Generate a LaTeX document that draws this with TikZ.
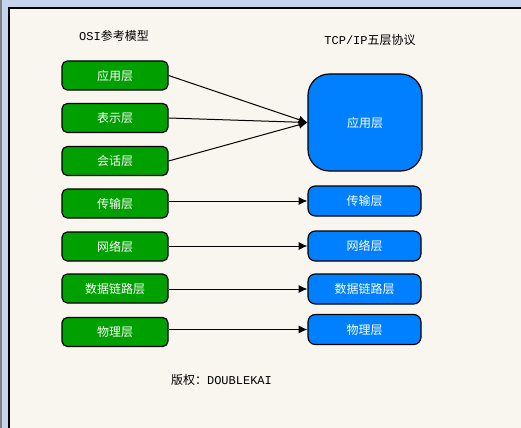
\documentclass[tikz,border=0pt]{standalone}
\usepackage{fontspec}
\setmainfont{Liberation Mono}
\newfontfamily\cjk{Noto Sans CJK SC}
\usetikzlibrary{arrows.meta}
\definecolor{bgcream}{RGB}{249,246,240}
\definecolor{topband}{RGB}{197,211,236}
\definecolor{sidegray}{RGB}{128,128,128}
\definecolor{osigreen}{RGB}{0,160,0}
\definecolor{tcpblue}{RGB}{0,128,255}
\tikzset{
  osibox/.style={draw=black, line width=0.9pt, fill=osigreen, rounded corners=4pt,
    minimum width=79.5pt, minimum height=21.75pt, inner sep=0pt, text=white,
    font=\cjk\fontsize{9}{11}\selectfont},
  tcpbox/.style={draw=black, line width=0.9pt, fill=tcpblue, rounded corners=5.5pt,
    minimum width=84.75pt, minimum height=22.5pt, inner sep=0pt, text=white,
    font=\cjk\fontsize{9}{11}\selectfont},
  bigbox/.style={tcpbox, rounded corners=16pt, minimum width=85.5pt, minimum height=72.75pt},
  title/.style={inner sep=0pt, font=\fontsize{9}{11}\selectfont},
  conn/.style={line width=0.75pt, -{Latex[length=6.5pt,width=6pt]}}
}
\begin{document}
\begin{tikzpicture}[x=0.75pt,y=-0.75pt]
\useasboundingbox (0,0) rectangle (521,428);
\fill[topband] (0,0) rectangle (521,428);
\fill[sidegray] (0,0) rectangle (2,428);
\fill[bgcream] (9,8) rectangle (521,428);
\draw[black, line width=1.5pt] (9,428) -- (9,8) -- (521,8);

\node[title] (t1) at (114,36) {OSI{\cjk 参考模型}};
\node[title] (t2) at (370,40) {TCP/IP{\cjk 五层协议}};
\node[title] (t3) at (221.5,380) {{\cjk 版权：}DOUBLEKAI};

\node[osibox] (g1) at (115,75.5) {应用层};
\node[osibox] (g2) at (115,118) {表示层};
\node[osibox] (g3) at (115,161) {会话层};
\node[osibox] (g4) at (115,203.5) {传输层};
\node[osibox] (g5) at (115,246.5) {网络层};
\node[osibox] (g6) at (115,288.5) {数据链路层};
\node[osibox] (g7) at (115,332) {物理层};

\node[bigbox] (b1) at (365,122.5) {应用层};
\node[tcpbox] (b4) at (364.5,201) {传输层};
\node[tcpbox] (b5) at (364.5,246) {网络层};
\node[tcpbox] (b6) at (364.5,289) {数据链路层};
\node[tcpbox] (b7) at (364.5,329.5) {物理层};

\draw[conn] (g1.east) -- (b1.west);
\draw[conn] (g2.east) -- (b1.west);
\draw[conn] (g3.east) -- (b1.west);
\draw[conn] (g4.east |- b4.west) -- (b4.west);
\draw[conn] (g5.east |- b5.west) -- (b5.west);
\draw[conn] (g6.east |- b6.west) -- (b6.west);
\draw[conn] (g7.east |- b7.west) -- (b7.west);
\end{tikzpicture}
\end{document}
